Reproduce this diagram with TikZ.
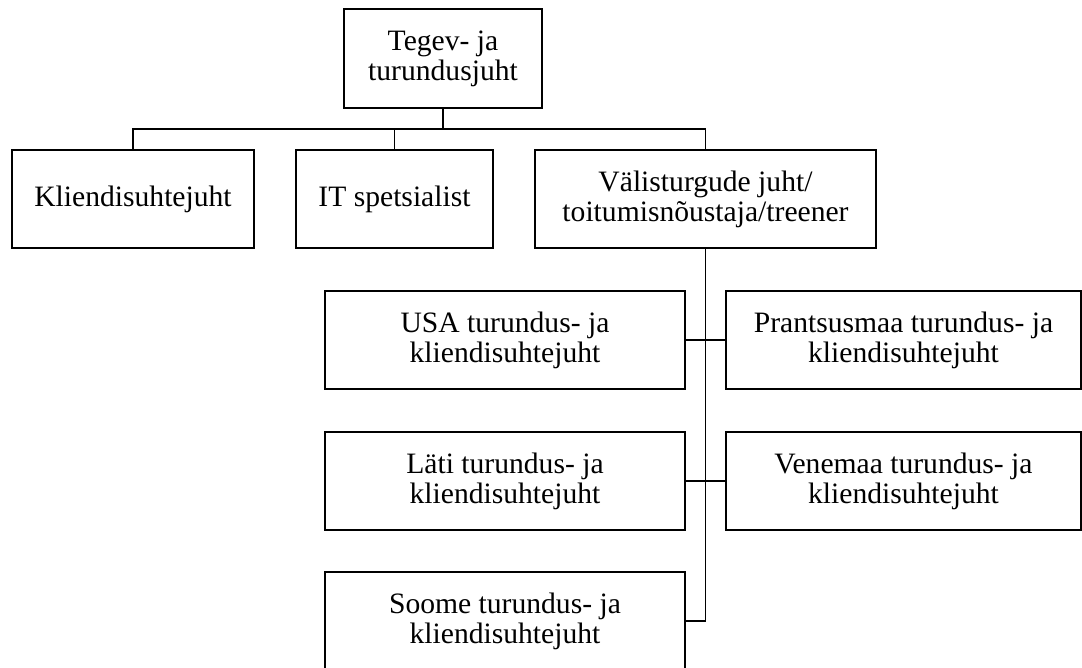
\documentclass[tikz,border=0pt]{standalone}
\usepackage{fontspec}
\setmainfont{Liberation Serif}
\begin{document}
\begin{tikzpicture}[x=1pt,y=-1pt,
  box/.style={draw=black,line width=1.2pt,fill=white,rectangle,align=center,inner sep=0pt,
    font=\fontsize{29.6}{30}\selectfont},
  link/.style={draw=black,line width=1.2pt}]
\useasboundingbox (0,0) rectangle (1082,668);
% top level
\node[box,minimum width=198pt,minimum height=99pt] (top) at (443,58.5) {Tegev- ja\\turundusjuht};
% second level
\node[box,minimum width=242pt,minimum height=98pt] (kl) at (133,199) {Kliendisuhtejuht};
\node[box,minimum width=197pt,minimum height=98pt] (it) at (394.5,199) {IT spetsialist};
\node[box,minimum width=341pt,minimum height=98pt] (va) at (705.5,199) {Välisturgude juht/\\toitumisnõustaja/treener};
% third level
\node[box,minimum width=360pt,minimum height=98pt] (usa) at (505,340) {USA turundus- ja\\kliendisuhtejuht};
\node[box,minimum width=355pt,minimum height=98pt] (pr) at (903.5,340) {Prantsusmaa turundus- ja\\kliendisuhtejuht};
\node[box,minimum width=360pt,minimum height=98pt] (la) at (505,481) {Läti turundus- ja\\kliendisuhtejuht};
\node[box,minimum width=355pt,minimum height=98pt] (ve) at (903.5,481) {Venemaa turundus- ja\\kliendisuhtejuht};
\node[box,minimum width=360pt,minimum height=98pt] (so) at (505,621) {Soome turundus- ja\\kliendisuhtejuht};
% connectors
\coordinate (bus) at (443,129);
\draw[link] (top.south) -- (bus);
\draw[link] (kl.north) |- (bus) -| (va.north);
\draw[link] (it.north) -- (it.north |- bus);
\draw[link] (va.south) -- (va.south |- so.east) -- (so.east);
\draw[link] (usa.east) -- (pr.west);
\draw[link] (la.east) -- (ve.west);
\end{tikzpicture}
\end{document}
